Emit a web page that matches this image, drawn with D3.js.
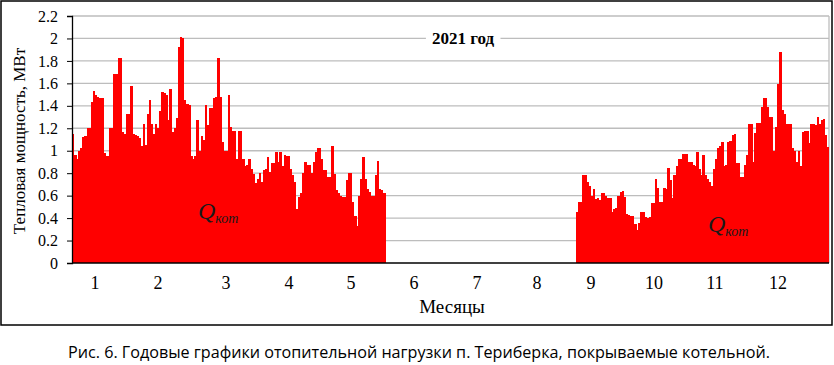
<!DOCTYPE html>
<html><head><meta charset="utf-8">
<script src="https://cdn.jsdelivr.net/npm/d3@7"></script>
<style>body{margin:0;background:#fff}svg{display:block}</style>
</head><body>
<svg id="c" width="834" height="365"></svg>
<script>
// Daily heating load, MW (Jan 1 – May 31)
const loadJanMay = [
1.15,0.96,0.93,1.0,1.02,1.12,1.13,1.2,1.2,1.43,1.53,1.50,1.48,1.47,1.47,0.98,0.95,0.95,1.2,1.2,
1.68,1.68,1.83,1.83,1.17,1.15,1.33,1.33,1.58,1.15,1.14,1.13,1.11,1.04,1.24,1.05,1.33,1.45,1.24,1.15,
1.24,1.2,1.35,1.52,1.51,1.50,1.27,1.55,1.17,1.2,1.29,1.92,2.01,2.0,1.45,1.42,1.41,
0.95,0.93,0.95,1.27,1.0,1.13,1.10,1.41,1.23,1.38,1.38,1.47,1.48,1.83,1.48,1.08,1.0,1.0,1.50,1.21,
1.18,1.18,0.93,1.18,1.18,0.93,0.86,0.87,0.93,0.84,0.79,0.71,0.75,0.80,0.72,0.83,0.84,0.94,0.81,0.89,
0.89,0.99,0.90,0.99,0.86,0.96,0.95,
0.95,0.84,0.78,0.72,0.48,0.59,0.62,0.80,0.90,0.87,0.87,0.80,0.90,0.99,1.02,1.02,0.93,0.83,0.83,0.77,
0.77,1.04,0.79,0.65,0.62,0.60,0.59,0.59,0.74,0.80,0.80,0.54,0.42,0.33,0.60,0.75,0.94,0.75,0.66,0.63,
0.60,0.60,0.78,0.91,0.66,0.65,0.62];
// Summer (June – August): no load
const summerDays = 92;
// Daily heating load, MW (Sep 1 – Dec 31)
const loadSepDec = [
0.45,0.54,0.54,0.78,0.78,0.72,0.69,0.60,0.66,0.57,0.58,0.56,0.62,0.62,0.60,0.58,0.58,0.45,0.48,0.49,
0.60,0.63,0.64,0.59,0.44,0.43,0.42,0.42,0.35,0.29,0.36,0.45,0.45,0.41,0.40,0.41,0.53,0.53,0.75,0.67,
0.54,0.54,0.67,0.66,0.85,0.74,0.58,0.78,0.86,0.93,0.93,0.97,0.97,0.97,0.90,0.90,0.87,0.86,0.99,0.84,0.78,
0.96,0.78,0.75,0.72,0.69,0.84,0.93,1.02,1.04,1.08,0.86,0.87,1.08,1.09,1.14,1.15,0.89,0.89,0.77,0.77,
0.87,0.96,1.24,1.24,0.90,1.16,1.25,1.25,1.39,1.47,1.47,1.39,1.30,1.30,1.0,1.21,1.59,1.88,1.36,1.33,
1.24,1.24,1.24,1.02,1.0,0.90,1.0,0.86,1.17,1.18,1.18,1.07,1.24,1.24,1.23,1.30,1.24,1.27,1.28,1.14,1.03];
const monthLabels = ["1","2","3","4","5","6","7","8","9","10","11","12"];
const monthLabelDay = [11.1,41.5,74.3,104.6,134.5,164.9,195.3,224.2,250.2,280.6,310.0,340.4];
const yTicks = [0,0.2,0.4,0.6,0.8,1.0,1.2,1.4,1.6,1.8,2.0,2.2];
const yTickLabels = ["0","0.2","0.4","0.6","0.8","1","1.2","1.4","1.6","1.8","2","2.2"];
const titleText = "2021 год";
const yTitle = "Тепловая мощность, МВт";
const xTitle = "Месяцы";
const caption = "Рис. 6. Годовые графики отопительной нагрузки п. Териберка, покрываемые котельной.";

const daily = loadJanMay.concat(new Array(summerDays).fill(0), loadSepDec);

const svg = d3.select("#c");
const L = 72, R = 829, T = 16, B = 263;
const x = d3.scaleBand().domain(d3.range(daily.length)).range([L, R]).padding(0);
const xDay = d3.scaleLinear().domain([0, daily.length]).range([L, R]);
const y = d3.scaleLinear().domain([0, 2.2]).range([B, T]);

// frame
svg.append("rect").attr("x",1).attr("y",1).attr("width",831).attr("height",324)
  .attr("fill","none").attr("stroke","#000").attr("stroke-width",1.5);

// gridlines
svg.append("g").selectAll("line").data(yTicks.slice(1)).join("line")
  .attr("x1",L).attr("x2",R).attr("y1",d=>y(d)).attr("y2",d=>y(d))
  .attr("stroke","#bdbdbd").attr("stroke-width",1.3);
svg.append("line").attr("x1",R).attr("x2",R).attr("y1",T).attr("y2",B)
  .attr("stroke","#bdbdbd").attr("stroke-width",1.3);

// title background layer (filled after title is measured)
const titleBg = svg.append("rect").attr("fill","#fff");

// bars
svg.append("g").selectAll("rect").data(daily.map((v,i)=>({v,i})).filter(d=>d.v>0)).join("rect")
  .attr("x",d=>x(d.i)).attr("width",x.bandwidth()+0.4)
  .attr("y",d=>y(d.v)).attr("height",d=>y(0)-y(d.v))
  .attr("fill","#ff0000").attr("shape-rendering","crispEdges");

// y axis
const ya = svg.append("g").attr("transform",`translate(${L},0)`)
  .call(d3.axisLeft(y).tickValues(yTicks).tickSize(5).tickPadding(9)
    .tickFormat((d,i)=>yTickLabels[i]));
ya.select(".domain").attr("stroke","#000").attr("stroke-width",1.3);
ya.selectAll(".tick line").attr("stroke","#000");
ya.selectAll("text").attr("font-family","'Liberation Serif', serif").attr("font-size",16).attr("fill","#000");

// x axis line
svg.append("line").attr("x1",L).attr("x2",R).attr("y1",B).attr("y2",B)
  .attr("stroke","#000").attr("stroke-width",1.5);

// month labels
svg.append("g").selectAll("text").data(monthLabels).join("text")
  .attr("x",(d,i)=>xDay(monthLabelDay[i])).attr("y",289)
  .attr("text-anchor","middle").attr("font-family","'Liberation Serif', serif")
  .attr("font-size",18).text(d=>d);

svg.append("text").attr("x",452).attr("y",313).attr("text-anchor","middle")
  .attr("font-family","'Liberation Serif', serif").attr("font-size",19).text(xTitle);

svg.append("text").attr("transform","translate(25,141) rotate(-90)").attr("text-anchor","middle")
  .attr("font-family","'Liberation Serif', serif").attr("font-size",17).text(yTitle);

// title with white background
const tt = svg.append("text").attr("x",463).attr("y",44).attr("text-anchor","middle")
  .attr("font-family","'Liberation Serif', serif").attr("font-size",17).attr("font-weight","bold").text(titleText);
const bb = tt.node().getBBox();
titleBg.attr("x",bb.x-6).attr("y",bb.y).attr("width",bb.width+12).attr("height",bb.height);

// Q labels
function qLabel(px, py){
  const t = svg.append("text").attr("x",px).attr("y",py)
    .attr("font-family","'Liberation Serif', serif").attr("font-style","italic").attr("fill","#1a1a1a");
  t.append("tspan").attr("font-size",24).text("Q");
  t.append("tspan").attr("font-size",14).attr("dy",4).text("кот");
}
qLabel(198, 219);
qLabel(708, 232);

// caption
svg.append("text").attr("x",419).attr("y",358).attr("text-anchor","middle")
  .attr("font-family","'Open Sans', sans-serif").attr("font-size",17)
  .attr("textLength",702).attr("lengthAdjust","spacingAndGlyphs").text(caption);
</script>
</body></html>
